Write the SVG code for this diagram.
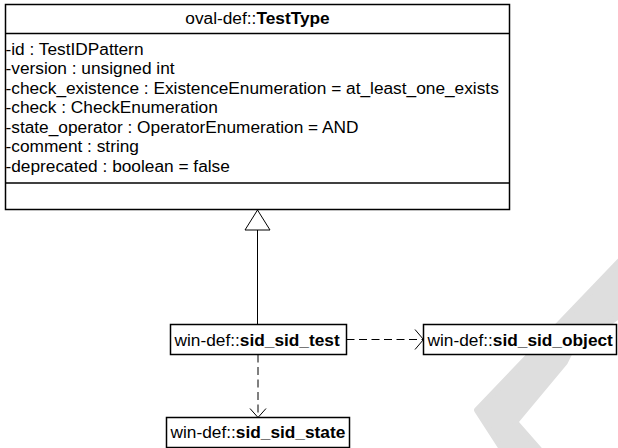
<svg xmlns="http://www.w3.org/2000/svg" width="618" height="448" viewBox="0 0 618 448">
<style>
text { font-family: "Liberation Sans", Arial, sans-serif; font-size: 17.3px; fill: #000; }
.b { font-weight: bold; }
.box { fill: #fff; stroke: #000; stroke-width: 1.5; }
.sep { stroke: #000; stroke-width: 1.5; }
.line { fill: none; stroke: #000; stroke-width: 1; }
.dash { fill: none; stroke: #000; stroke-width: 1; stroke-dasharray: 8 4.5; }
.head { fill: none; stroke: #000; stroke-width: 1; }
</style>
<polygon points="640,240 477,410 506,455 544,455 515,422 565,362 570,352 640,300" fill="#dedede" stroke="#dedede" stroke-width="6" stroke-linejoin="round"/>
<g id="connectors">
<line class="line" x1="257.5" y1="230" x2="257.5" y2="324.5"/>
<polygon points="257.5,210 245,230 270,230" fill="#fff" stroke="#000" stroke-width="1"/>
<line class="dash" x1="346.5" y1="339.5" x2="423" y2="339.5"/>
<polyline class="head" points="415,329.5 423.5,339.5 415,349.5"/>
<line class="dash" x1="258" y1="354.5" x2="258" y2="417"/>
<polyline class="head" points="250,408.5 258,417.5 266,408.5"/>
</g>
<g id="TestType">
<rect class="box" x="5.5" y="4.5" width="504" height="205"/>
<line class="sep" x1="5.5" y1="33.5" x2="509.5" y2="33.5"/>
<line class="sep" x1="5.5" y1="183" x2="509.5" y2="183"/>
<text x="257.5" y="24" text-anchor="middle">oval-def::<tspan class="b">TestType</tspan></text>
<text x="5.5" y="54.5">-id : TestIDPattern</text>
<text x="5.5" y="74">-version : unsigned int</text>
<text x="5.5" y="93.5">-check_existence : ExistenceEnumeration = at_least_one_exists</text>
<text x="5.5" y="113">-check : CheckEnumeration</text>
<text x="5.5" y="132.5">-state_operator : OperatorEnumeration = AND</text>
<text x="5.5" y="152">-comment : string</text>
<text x="5.5" y="171.5">-deprecated : boolean = false</text>
</g>
<g id="sid_sid_test">
<rect class="box" x="170.5" y="324.5" width="176" height="30"/>
<text x="174.5" y="345.5">win-def::<tspan class="b">sid_sid_test</tspan></text>
</g>
<g id="sid_sid_object">
<rect class="box" x="423.5" y="324.5" width="193" height="30"/>
<text x="427.5" y="345.5">win-def::<tspan class="b">sid_sid_object</tspan></text>
</g>
<g id="sid_sid_state">
<rect class="box" x="166.5" y="417.5" width="183" height="30"/>
<text x="170.5" y="437.5">win-def::<tspan class="b">sid_sid_state</tspan></text>
</g>
</svg>
